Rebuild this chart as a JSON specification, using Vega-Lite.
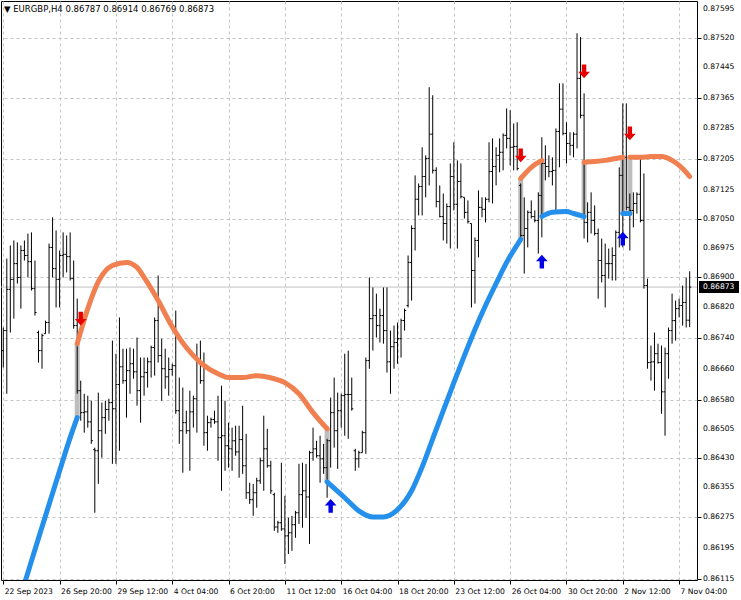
{
"$schema":"https://vega.github.io/schema/vega-lite/v6.json",
"width":696,"height":579,
"autosize":{"type":"none"},
"padding":{"left":1,"top":1,"right":44,"bottom":20},
"background":"#ffffff",
"config":{"view":{"stroke":"#000000","strokeWidth":1},"font":"DejaVu Sans","axis":{"labelFont":"DejaVu Sans","labelFontSize":7.6,"labelColor":"#000000","tickColor":"#000000","domain":false,"gridColor":"#c4c4c4","gridDash":[3,3],"gridWidth":1,"labelOverlap":false,"labelBound":false,"labelFlush":false}},
"datasets":{
"bars":[
{"i":0,"o":0.86708,"h":0.86768,"l":0.86664,"c":0.86760},
{"i":1,"o":0.86760,"h":0.86947,"l":0.86596,"c":0.86867},
{"i":2,"o":0.86867,"h":0.86981,"l":0.86755,"c":0.86893},
{"i":3,"o":0.86893,"h":0.86994,"l":0.86791,"c":0.86934},
{"i":4,"o":0.86934,"h":0.86989,"l":0.86882,"c":0.86898},
{"i":5,"o":0.86898,"h":0.86981,"l":0.86817,"c":0.86968},
{"i":6,"o":0.86968,"h":0.86994,"l":0.86942,"c":0.86955},
{"i":7,"o":0.86955,"h":0.87012,"l":0.86898,"c":0.86939},
{"i":8,"o":0.86939,"h":0.87015,"l":0.86864,"c":0.86869},
{"i":9,"o":0.86869,"h":0.86942,"l":0.86799,"c":0.86807},
{"i":10,"o":0.86755,"h":0.86760,"l":0.86677,"c":0.86708},
{"i":11,"o":0.86708,"h":0.86752,"l":0.86661,"c":0.86747},
{"i":12,"o":0.86752,"h":0.86786,"l":0.86752,"c":0.86781},
{"i":13,"o":0.86781,"h":0.86986,"l":0.86752,"c":0.86976},
{"i":14,"o":0.86976,"h":0.87054,"l":0.86898,"c":0.86921},
{"i":15,"o":0.86921,"h":0.87020,"l":0.86820,"c":0.86893},
{"i":16,"o":0.86893,"h":0.86968,"l":0.86820,"c":0.86955},
{"i":17,"o":0.86955,"h":0.87015,"l":0.86898,"c":0.86958},
{"i":18,"o":0.86958,"h":0.87007,"l":0.86911,"c":0.86952},
{"i":19,"o":0.86952,"h":0.87015,"l":0.86890,"c":0.86895},
{"i":20,"o":0.86895,"h":0.86942,"l":0.86765,"c":0.86773},
{"i":21,"o":0.86773,"h":0.86843,"l":0.86596,"c":0.86604},
{"i":22,"o":0.86604,"h":0.86630,"l":0.86526,"c":0.86547},
{"i":23,"o":0.86547,"h":0.86596,"l":0.86495,"c":0.86549},
{"i":24,"o":0.86549,"h":0.86591,"l":0.86508,"c":0.86523},
{"i":25,"o":0.86523,"h":0.86578,"l":0.86466,"c":0.86474},
{"i":26,"o":0.86451,"h":0.86456,"l":0.86287,"c":0.86448},
{"i":27,"o":0.86448,"h":0.86599,"l":0.86362,"c":0.86500},
{"i":28,"o":0.86500,"h":0.86573,"l":0.86430,"c":0.86534},
{"i":29,"o":0.86534,"h":0.86578,"l":0.86492,"c":0.86555},
{"i":30,"o":0.86555,"h":0.86583,"l":0.86526,"c":0.86573},
{"i":31,"o":0.86573,"h":0.86734,"l":0.86414,"c":0.86557},
{"i":32,"o":0.86557,"h":0.86700,"l":0.86414,"c":0.86620},
{"i":33,"o":0.86620,"h":0.86794,"l":0.86448,"c":0.86666},
{"i":34,"o":0.86666,"h":0.86713,"l":0.86622,"c":0.86630},
{"i":35,"o":0.86630,"h":0.86713,"l":0.86534,"c":0.86656},
{"i":36,"o":0.86656,"h":0.86716,"l":0.86596,"c":0.86674},
{"i":37,"o":0.86674,"h":0.86713,"l":0.86635,"c":0.86653},
{"i":38,"o":0.86653,"h":0.86742,"l":0.86565,"c":0.86604},
{"i":39,"o":0.86604,"h":0.86690,"l":0.86521,"c":0.86640},
{"i":40,"o":0.86640,"h":0.86690,"l":0.86591,"c":0.86651},
{"i":41,"o":0.86651,"h":0.86690,"l":0.86612,"c":0.86679},
{"i":42,"o":0.86679,"h":0.86721,"l":0.86638,"c":0.86716},
{"i":43,"o":0.86716,"h":0.86794,"l":0.86643,"c":0.86786},
{"i":44,"o":0.86786,"h":0.86903,"l":0.86677,"c":0.86695},
{"i":45,"o":0.86695,"h":0.86739,"l":0.86578,"c":0.86661},
{"i":46,"o":0.86661,"h":0.86713,"l":0.86609,"c":0.86640},
{"i":47,"o":0.86640,"h":0.86690,"l":0.86591,"c":0.86659},
{"i":48,"o":0.86659,"h":0.86674,"l":0.86643,"c":0.86669},
{"i":49,"o":0.86669,"h":0.86812,"l":0.86544,"c":0.86552},
{"i":50,"o":0.86552,"h":0.86638,"l":0.86466,"c":0.86500},
{"i":51,"o":0.86500,"h":0.86612,"l":0.86391,"c":0.86521},
{"i":52,"o":0.86521,"h":0.86552,"l":0.86492,"c":0.86500},
{"i":53,"o":0.86500,"h":0.86604,"l":0.86396,"c":0.86549},
{"i":54,"o":0.86549,"h":0.86591,"l":0.86508,"c":0.86583},
{"i":55,"o":0.86583,"h":0.86726,"l":0.86495,"c":0.86677},
{"i":56,"o":0.86677,"h":0.86734,"l":0.86622,"c":0.86630},
{"i":57,"o":0.86630,"h":0.86703,"l":0.86461,"c":0.86495},
{"i":58,"o":0.86495,"h":0.86539,"l":0.86448,"c":0.86521},
{"i":59,"o":0.86521,"h":0.86534,"l":0.86508,"c":0.86529},
{"i":60,"o":0.86529,"h":0.86552,"l":0.86518,"c":0.86523},
{"i":61,"o":0.86523,"h":0.86591,"l":0.86422,"c":0.86482},
{"i":62,"o":0.86482,"h":0.86617,"l":0.86344,"c":0.86487},
{"i":63,"o":0.86487,"h":0.86578,"l":0.86396,"c":0.86461},
{"i":64,"o":0.86461,"h":0.86521,"l":0.86404,"c":0.86453},
{"i":65,"o":0.86453,"h":0.86508,"l":0.86396,"c":0.86474},
{"i":66,"o":0.86474,"h":0.86513,"l":0.86435,"c":0.86445},
{"i":67,"o":0.86445,"h":0.86513,"l":0.86378,"c":0.86477},
{"i":68,"o":0.86477,"h":0.86565,"l":0.86388,"c":0.86409},
{"i":69,"o":0.86409,"h":0.86492,"l":0.86323,"c":0.86339},
{"i":70,"o":0.86339,"h":0.86365,"l":0.86310,"c":0.86321},
{"i":71,"o":0.86321,"h":0.86362,"l":0.86279,"c":0.86339},
{"i":72,"o":0.86339,"h":0.86378,"l":0.86300,"c":0.86370},
{"i":73,"o":0.86370,"h":0.86430,"l":0.86362,"c":0.86422},
{"i":74,"o":0.86422,"h":0.86539,"l":0.86344,"c":0.86453},
{"i":75,"o":0.86453,"h":0.86505,"l":0.86404,"c":0.86409},
{"i":76,"o":0.86409,"h":0.86422,"l":0.86336,"c":0.86344},
{"i":77,"o":0.86334,"h":0.86339,"l":0.86240,"c":0.86250},
{"i":78,"o":0.86250,"h":0.86266,"l":0.86235,"c":0.86261},
{"i":79,"o":0.86261,"h":0.86417,"l":0.86240,"c":0.86245},
{"i":80,"o":0.86245,"h":0.86331,"l":0.86154,"c":0.86227},
{"i":81,"o":0.86227,"h":0.86274,"l":0.86180,"c":0.86235},
{"i":82,"o":0.86235,"h":0.86279,"l":0.86188,"c":0.86256},
{"i":83,"o":0.86256,"h":0.86292,"l":0.86222,"c":0.86287},
{"i":84,"o":0.86287,"h":0.86414,"l":0.86258,"c":0.86334},
{"i":85,"o":0.86334,"h":0.86417,"l":0.86248,"c":0.86344},
{"i":86,"o":0.86344,"h":0.86414,"l":0.86274,"c":0.86328},
{"i":87,"o":0.86328,"h":0.86448,"l":0.86206,"c":0.86443},
{"i":88,"o":0.86443,"h":0.86508,"l":0.86422,"c":0.86453},
{"i":89,"o":0.86453,"h":0.86474,"l":0.86430,"c":0.86435},
{"i":90,"o":0.86435,"h":0.86487,"l":0.86365,"c":0.86427},
{"i":91,"o":0.86427,"h":0.86466,"l":0.86388,"c":0.86404},
{"i":92,"o":0.86404,"h":0.86479,"l":0.86326,"c":0.86474},
{"i":93,"o":0.86474,"h":0.86586,"l":0.86404,"c":0.86547},
{"i":94,"o":0.86547,"h":0.86638,"l":0.86456,"c":0.86500},
{"i":95,"o":0.86500,"h":0.86599,"l":0.86401,"c":0.86552},
{"i":96,"o":0.86552,"h":0.86596,"l":0.86508,"c":0.86591},
{"i":97,"o":0.86591,"h":0.86700,"l":0.86487,"c":0.86594},
{"i":98,"o":0.86594,"h":0.86708,"l":0.86479,"c":0.86594},
{"i":99,"o":0.86594,"h":0.86638,"l":0.86552,"c":0.86557},
{"i":100,"o":0.86448,"h":0.86453,"l":0.86396,"c":0.86427},
{"i":101,"o":0.86427,"h":0.86448,"l":0.86404,"c":0.86443},
{"i":102,"o":0.86443,"h":0.86500,"l":0.86443,"c":0.86495},
{"i":103,"o":0.86495,"h":0.86690,"l":0.86440,"c":0.86682},
{"i":104,"o":0.86682,"h":0.86898,"l":0.86661,"c":0.86791},
{"i":105,"o":0.86791,"h":0.86872,"l":0.86708,"c":0.86799},
{"i":106,"o":0.86799,"h":0.86856,"l":0.86742,"c":0.86773},
{"i":107,"o":0.86773,"h":0.86817,"l":0.86729,"c":0.86799},
{"i":108,"o":0.86799,"h":0.86872,"l":0.86726,"c":0.86760},
{"i":109,"o":0.86760,"h":0.86872,"l":0.86651,"c":0.86679},
{"i":110,"o":0.86679,"h":0.86760,"l":0.86596,"c":0.86718},
{"i":111,"o":0.86718,"h":0.86773,"l":0.86661,"c":0.86729},
{"i":112,"o":0.86729,"h":0.86781,"l":0.86674,"c":0.86739},
{"i":113,"o":0.86739,"h":0.86791,"l":0.86690,"c":0.86786},
{"i":114,"o":0.86786,"h":0.86817,"l":0.86760,"c":0.86812},
{"i":115,"o":0.86825,"h":0.86955,"l":0.86820,"c":0.86937},
{"i":116,"o":0.86937,"h":0.87033,"l":0.86838,"c":0.87025},
{"i":117,"o":0.87025,"h":0.87163,"l":0.86968,"c":0.87101},
{"i":118,"o":0.87101,"h":0.87142,"l":0.87059,"c":0.87134},
{"i":119,"o":0.87134,"h":0.87236,"l":0.87059,"c":0.87160},
{"i":120,"o":0.87160,"h":0.87215,"l":0.87106,"c":0.87207},
{"i":121,"o":0.87207,"h":0.87392,"l":0.87137,"c":0.87270},
{"i":122,"o":0.87270,"h":0.87371,"l":0.87168,"c":0.87176},
{"i":123,"o":0.87176,"h":0.87184,"l":0.87080,"c":0.87095},
{"i":124,"o":0.87095,"h":0.87137,"l":0.87054,"c":0.87056},
{"i":125,"o":0.87056,"h":0.87116,"l":0.86994,"c":0.87038},
{"i":126,"o":0.87038,"h":0.87090,"l":0.86986,"c":0.87082},
{"i":127,"o":0.87082,"h":0.87194,"l":0.86973,"c":0.87160},
{"i":128,"o":0.87160,"h":0.87249,"l":0.87072,"c":0.87088},
{"i":129,"o":0.87088,"h":0.87202,"l":0.86973,"c":0.87147},
{"i":130,"o":0.87147,"h":0.87194,"l":0.87103,"c":0.87108},
{"i":131,"o":0.87106,"h":0.87106,"l":0.87051,"c":0.87067},
{"i":132,"o":0.87067,"h":0.87098,"l":0.87038,"c":0.87043},
{"i":133,"o":0.87038,"h":0.87038,"l":0.86820,"c":0.86916},
{"i":134,"o":0.86916,"h":0.87002,"l":0.86830,"c":0.86994},
{"i":135,"o":0.86994,"h":0.87124,"l":0.86950,"c":0.87080},
{"i":136,"o":0.87080,"h":0.87106,"l":0.87054,"c":0.87075},
{"i":137,"o":0.87075,"h":0.87106,"l":0.87041,"c":0.87101},
{"i":138,"o":0.87101,"h":0.87249,"l":0.87093,"c":0.87173},
{"i":139,"o":0.87173,"h":0.87259,"l":0.87090,"c":0.87186},
{"i":140,"o":0.87186,"h":0.87236,"l":0.87137,"c":0.87215},
{"i":141,"o":0.87215,"h":0.87259,"l":0.87171,"c":0.87223},
{"i":142,"o":0.87223,"h":0.87272,"l":0.87176,"c":0.87267},
{"i":143,"o":0.87267,"h":0.87337,"l":0.87233,"c":0.87259},
{"i":144,"o":0.87259,"h":0.87332,"l":0.87189,"c":0.87236},
{"i":145,"o":0.87236,"h":0.87298,"l":0.87176,"c":0.87238},
{"i":146,"o":0.87238,"h":0.87301,"l":0.87176,"c":0.87181},
{"i":147,"o":0.87137,"h":0.87142,"l":0.86999,"c":0.87007},
{"i":148,"o":0.87007,"h":0.87106,"l":0.86908,"c":0.87025},
{"i":149,"o":0.87025,"h":0.87072,"l":0.86976,"c":0.87067},
{"i":150,"o":0.87067,"h":0.87098,"l":0.87051,"c":0.87056},
{"i":151,"o":0.87056,"h":0.87072,"l":0.87041,"c":0.87046},
{"i":152,"o":0.87046,"h":0.87119,"l":0.86960,"c":0.87111},
{"i":153,"o":0.87111,"h":0.87262,"l":0.87002,"c":0.87194},
{"i":154,"o":0.87194,"h":0.87241,"l":0.87150,"c":0.87186},
{"i":155,"o":0.87186,"h":0.87215,"l":0.87158,"c":0.87173},
{"i":156,"o":0.87173,"h":0.87210,"l":0.87137,"c":0.87176},
{"i":157,"o":0.87176,"h":0.87285,"l":0.87067,"c":0.87277},
{"i":158,"o":0.87277,"h":0.87402,"l":0.87184,"c":0.87335},
{"i":159,"o":0.87335,"h":0.87402,"l":0.87267,"c":0.87272},
{"i":160,"o":0.87272,"h":0.87301,"l":0.87194,"c":0.87246},
{"i":161,"o":0.87246,"h":0.87275,"l":0.87215,"c":0.87241},
{"i":162,"o":0.87241,"h":0.87275,"l":0.87210,"c":0.87270},
{"i":163,"o":0.87270,"h":0.87532,"l":0.87233,"c":0.87415},
{"i":164,"o":0.87415,"h":0.87522,"l":0.87311,"c":0.87319},
{"i":165,"o":0.87319,"h":0.87376,"l":0.86999,"c":0.87041},
{"i":166,"o":0.87041,"h":0.87093,"l":0.86989,"c":0.87067},
{"i":167,"o":0.87067,"h":0.87119,"l":0.87012,"c":0.87046},
{"i":168,"o":0.87046,"h":0.87085,"l":0.87007,"c":0.87012},
{"i":169,"o":0.87012,"h":0.87025,"l":0.86843,"c":0.86942},
{"i":170,"o":0.86942,"h":0.86999,"l":0.86885,"c":0.86903},
{"i":171,"o":0.86903,"h":0.86986,"l":0.86820,"c":0.86934},
{"i":172,"o":0.86934,"h":0.86973,"l":0.86895,"c":0.86934},
{"i":173,"o":0.86934,"h":0.86976,"l":0.86890,"c":0.86955},
{"i":174,"o":0.86955,"h":0.87020,"l":0.86890,"c":0.87015},
{"i":175,"o":0.87015,"h":0.87184,"l":0.86976,"c":0.87163},
{"i":176,"o":0.87163,"h":0.87350,"l":0.86976,"c":0.87210},
{"i":177,"o":0.87210,"h":0.87350,"l":0.87072,"c":0.87080},
{"i":178,"o":0.87080,"h":0.87116,"l":0.86968,"c":0.87072},
{"i":179,"o":0.87072,"h":0.87119,"l":0.87028,"c":0.87090},
{"i":180,"o":0.87090,"h":0.87119,"l":0.87064,"c":0.87114},
{"i":181,"o":0.87114,"h":0.87207,"l":0.87041,"c":0.87046},
{"i":182,"o":0.87046,"h":0.87168,"l":0.86869,"c":0.86877},
{"i":183,"o":0.86877,"h":0.86895,"l":0.86661,"c":0.86677},
{"i":184,"o":0.86677,"h":0.86721,"l":0.86630,"c":0.86679},
{"i":185,"o":0.86679,"h":0.86755,"l":0.86604,"c":0.86700},
{"i":186,"o":0.86700,"h":0.86726,"l":0.86674,"c":0.86677},
{"i":187,"o":0.86677,"h":0.86721,"l":0.86544,"c":0.86601},
{"i":188,"o":0.86601,"h":0.86716,"l":0.86487,"c":0.86700},
{"i":189,"o":0.86700,"h":0.86768,"l":0.86635,"c":0.86760},
{"i":190,"o":0.86760,"h":0.86856,"l":0.86726,"c":0.86786},
{"i":191,"o":0.86786,"h":0.86838,"l":0.86734,"c":0.86817},
{"i":192,"o":0.86817,"h":0.86843,"l":0.86794,"c":0.86825},
{"i":193,"o":0.86825,"h":0.86877,"l":0.86773,"c":0.86833},
{"i":194,"o":0.86833,"h":0.86898,"l":0.86768,"c":0.86787},
{"i":195,"o":0.86787,"h":0.86914,"l":0.86769,"c":0.86873}
],
"ind":[
{"seg":"s1","t":"up","i":4,"v":0.86042},{"seg":"s1","t":"up","i":8,"v":0.86162},{"seg":"s1","t":"up","i":12,"v":0.86279},{"seg":"s1","t":"up","i":16,"v":0.86396},{"seg":"s1","t":"up","i":19,"v":0.86482},{"seg":"s1","t":"up","i":21,"v":0.86534},
{"seg":"s2","t":"down","i":21,"v":0.86726},{"seg":"s2","t":"down","i":24,"v":0.86817},{"seg":"s2","t":"down","i":27,"v":0.86887},{"seg":"s2","t":"down","i":31,"v":0.86929},{"seg":"s2","t":"down","i":35,"v":0.86937},{"seg":"s2","t":"down","i":38,"v":0.86924},{"seg":"s2","t":"down","i":40,"v":0.86898},{"seg":"s2","t":"down","i":44,"v":0.86838},{"seg":"s2","t":"down","i":48,"v":0.86770},{"seg":"s2","t":"down","i":52,"v":0.86716},{"seg":"s2","t":"down","i":56,"v":0.86677},{"seg":"s2","t":"down","i":61,"v":0.86648},{"seg":"s2","t":"down","i":64,"v":0.86638},{"seg":"s2","t":"down","i":68,"v":0.86638},{"seg":"s2","t":"down","i":72,"v":0.86643},{"seg":"s2","t":"down","i":77,"v":0.86635},{"seg":"s2","t":"down","i":80,"v":0.86625},{"seg":"s2","t":"down","i":84,"v":0.86596},{"seg":"s2","t":"down","i":88,"v":0.86547},{"seg":"s2","t":"down","i":92,"v":0.86505},
{"seg":"s3","t":"up","i":92,"v":0.86367},{"seg":"s3","t":"up","i":97,"v":0.86326},{"seg":"s3","t":"up","i":101,"v":0.86292},{"seg":"s3","t":"up","i":105,"v":0.86276},{"seg":"s3","t":"up","i":108,"v":0.86276},{"seg":"s3","t":"up","i":112,"v":0.86295},{"seg":"s3","t":"up","i":116,"v":0.86344},{"seg":"s3","t":"up","i":119,"v":0.86406},{"seg":"s3","t":"up","i":122,"v":0.86479},{"seg":"s3","t":"up","i":125,"v":0.86552},{"seg":"s3","t":"up","i":128,"v":0.86625},{"seg":"s3","t":"up","i":131,"v":0.86695},{"seg":"s3","t":"up","i":134,"v":0.86763},{"seg":"s3","t":"up","i":137,"v":0.86825},{"seg":"s3","t":"up","i":140,"v":0.86882},{"seg":"s3","t":"up","i":143,"v":0.86937},{"seg":"s3","t":"up","i":147,"v":0.86997},
{"seg":"s4","t":"down","i":147,"v":0.87155},{"seg":"s4","t":"down","i":150,"v":0.87184},{"seg":"s4","t":"down","i":153,"v":0.87202},
{"seg":"s5","t":"up","i":153,"v":0.87056},{"seg":"s5","t":"up","i":156,"v":0.87067},{"seg":"s5","t":"up","i":160,"v":0.87069},{"seg":"s5","t":"up","i":162,"v":0.87064},{"seg":"s5","t":"up","i":165,"v":0.87056},
{"seg":"s6","t":"down","i":165,"v":0.87197},{"seg":"s6","t":"down","i":168,"v":0.87199},{"seg":"s6","t":"down","i":171,"v":0.87202},{"seg":"s6","t":"down","i":174,"v":0.87207},{"seg":"s6","t":"down","i":176,"v":0.87210},
{"seg":"s7","t":"up","i":176,"v":0.87064},{"seg":"s7","t":"up","i":178,"v":0.87064},
{"seg":"s8","t":"down","i":178,"v":0.87210},{"seg":"s8","t":"down","i":181,"v":0.87210},{"seg":"s8","t":"down","i":184,"v":0.87212},{"seg":"s8","t":"down","i":187,"v":0.87212},{"seg":"s8","t":"down","i":190,"v":0.87202},{"seg":"s8","t":"down","i":192,"v":0.87189},{"seg":"s8","t":"down","i":194,"v":0.87171},{"seg":"s8","t":"down","i":195,"v":0.87160}
],
"conn":[
{"i":21,"a":0.86726,"b":0.86534},{"i":92,"a":0.86505,"b":0.86367},{"i":147,"a":0.87155,"b":0.86997},{"i":153,"a":0.87202,"b":0.87056},{"i":165,"a":0.87197,"b":0.87056},{"i":176,"a":0.87210,"b":0.87064},{"i":178,"a":0.87210,"b":0.87064}
],
"arrows":[
{"i":22,"p":0.86791,"dir":"sell"},{"i":93,"p":0.86305,"dir":"buy"},{"i":147,"p":0.87215,"dir":"sell"},{"i":153,"p":0.86939,"dir":"buy"},{"i":165,"p":0.87433,"dir":"sell"},{"i":176,"p":0.86999,"dir":"buy"},{"i":178,"p":0.87272,"dir":"sell"}
],
"yticks":[
{"v":0.86115,"label":"0.86115"},{"v":0.86195,"label":"0.86195"},{"v":0.86275,"label":"0.86275"},{"v":0.86355,"label":"0.86355"},{"v":0.8643,"label":"0.86430"},{"v":0.86505,"label":"0.86505"},{"v":0.8658,"label":"0.86580"},{"v":0.8666,"label":"0.86660"},{"v":0.8674,"label":"0.86740"},{"v":0.8682,"label":"0.86820"},{"v":0.869,"label":"0.86900"},{"v":0.86975,"label":"0.86975"},{"v":0.8705,"label":"0.87050"},{"v":0.87125,"label":"0.87125"},{"v":0.87205,"label":"0.87205"},{"v":0.87285,"label":"0.87285"},{"v":0.87365,"label":"0.87365"},{"v":0.87445,"label":"0.87445"},{"v":0.8752,"label":"0.87520"},{"v":0.87595,"label":"0.87595"}
],
"last":[{"p":0.86873,"label":"0.86873"}],
"head":[{"label":"\u25bc EURGBP,H4  0.86787 0.86914 0.86769 0.86873"}]
},
"layer":[
{"data":{"name":"last"},"mark":{"type":"rule","color":"#c0c0c0","strokeWidth":1},
 "encoding":{"y":{"field":"p","type":"quantitative","scale":{"domain":[0.861124,0.876158],"nice":false,"zero":false},
  "axis":{"orient":"right","title":null,"values":[0.86115,0.86195,0.86275,0.86355,0.8643,0.86505,0.8658,0.8666,0.8674,0.8682,0.869,0.86975,0.8705,0.87125,0.87205,0.87285,0.87365,0.87445,0.8752,0.87595],"labels":false,"tickSize":4,"grid":true}}}},
{"data":{"name":"conn"},"mark":{"type":"rule","color":"#bdbdbd","strokeWidth":5},
 "encoding":{"x":{"field":"i","type":"quantitative","scale":{"domain":[-0.65,197.08],"nice":false,"zero":false},
  "axis":{"title":null,"values":[0,16,32,48,64,80,96,112,128,144,160,176,192],"labelExpr":"['22 Sep 2023','26 Sep 20:00','29 Sep 12:00','4 Oct 04:00','6 Oct 20:00','11 Oct 12:00','16 Oct 04:00','18 Oct 20:00','23 Oct 12:00','26 Oct 04:00','30 Oct 20:00','2 Nov 12:00','7 Nov 04:00'][round(datum.value/16)]","labelAlign":"left","labelOffset":1,"labelPadding":3,"tickSize":4,"grid":true,"labelOverlap":false,"labelBound":false,"labelFlush":false}},
  "y":{"field":"a","type":"quantitative","title":null},"y2":{"field":"b"}}},
{"data":{"name":"bars"},"mark":{"type":"rule","color":"#000000","strokeWidth":1},
 "encoding":{"x":{"field":"i","type":"quantitative","title":null},"y":{"field":"l","type":"quantitative","title":null},"y2":{"field":"h"}}},
{"data":{"name":"bars"},"mark":{"type":"rule","color":"#000000","strokeWidth":1,"xOffset":-1.6,"x2Offset":0},
 "encoding":{"x":{"field":"i","type":"quantitative","title":null},"x2":{"field":"i"},"y":{"field":"o","type":"quantitative","title":null}}},
{"data":{"name":"bars"},"mark":{"type":"rule","color":"#000000","strokeWidth":1,"xOffset":0,"x2Offset":1.6},
 "encoding":{"x":{"field":"i","type":"quantitative","title":null},"x2":{"field":"i"},"y":{"field":"c","type":"quantitative","title":null}}},
{"data":{"name":"ind"},"mark":{"type":"line","strokeWidth":5,"strokeCap":"round","strokeJoin":"round","interpolate":"monotone","clip":true},
 "encoding":{"x":{"field":"i","type":"quantitative","title":null},"y":{"field":"v","type":"quantitative","title":null},"detail":{"field":"seg"},
  "color":{"field":"t","type":"nominal","scale":{"domain":["down","up"],"range":["#f08050","#2490ec"]},"legend":null}}},
{"data":{"name":"arrows"},"mark":{"type":"point","filled":true,"size":190,"opacity":1,"strokeWidth":0},
 "encoding":{"x":{"field":"i","type":"quantitative","title":null},"y":{"field":"p","type":"quantitative","title":null},
  "shape":{"field":"dir","type":"nominal","scale":{"domain":["sell","buy"],"range":["M0,1L0.85,0.05L0.32,0.05L0.32,-1L-0.32,-1L-0.32,0.05L-0.85,0.05Z","M0,-1L0.85,-0.05L0.32,-0.05L0.32,1L-0.32,1L-0.32,-0.05L-0.85,-0.05Z"]},"legend":null},
  "fill":{"field":"dir","type":"nominal","scale":{"domain":["sell","buy"],"range":["#e60000","#0000e6"]},"legend":null}}},
{"data":{"name":"yticks"},"mark":{"type":"text","color":"#000000","align":"left","baseline":"middle","dx":6,"fontSize":7.6,"font":"DejaVu Sans"},
 "encoding":{"x":{"datum":197.08,"type":"quantitative","title":null},"y":{"field":"v","type":"quantitative","title":null},"text":{"field":"label"}}},
{"data":{"name":"last"},"mark":{"type":"rect","color":"#000000","xOffset":2,"x2Offset":42,"yOffset":-6,"y2Offset":6},
 "encoding":{"x":{"datum":197.08,"type":"quantitative","title":null},"x2":{"datum":197.08},"y":{"field":"p","type":"quantitative","title":null},"y2":{"field":"p"}}},
{"data":{"name":"last"},"mark":{"type":"text","color":"#ffffff","align":"left","baseline":"middle","dx":6,"fontSize":7.6,"font":"DejaVu Sans"},
 "encoding":{"x":{"datum":197.08,"type":"quantitative","title":null},"y":{"field":"p","type":"quantitative","title":null},"text":{"field":"label"}}},
{"data":{"name":"head"},"mark":{"type":"text","color":"#000000","align":"left","baseline":"middle","dx":3,"dy":8,"fontSize":8.5,"font":"DejaVu Sans"},
 "encoding":{"x":{"datum":-0.65,"type":"quantitative","title":null},"y":{"datum":0.876158,"type":"quantitative","title":null},"text":{"field":"label"}}}
]
}
